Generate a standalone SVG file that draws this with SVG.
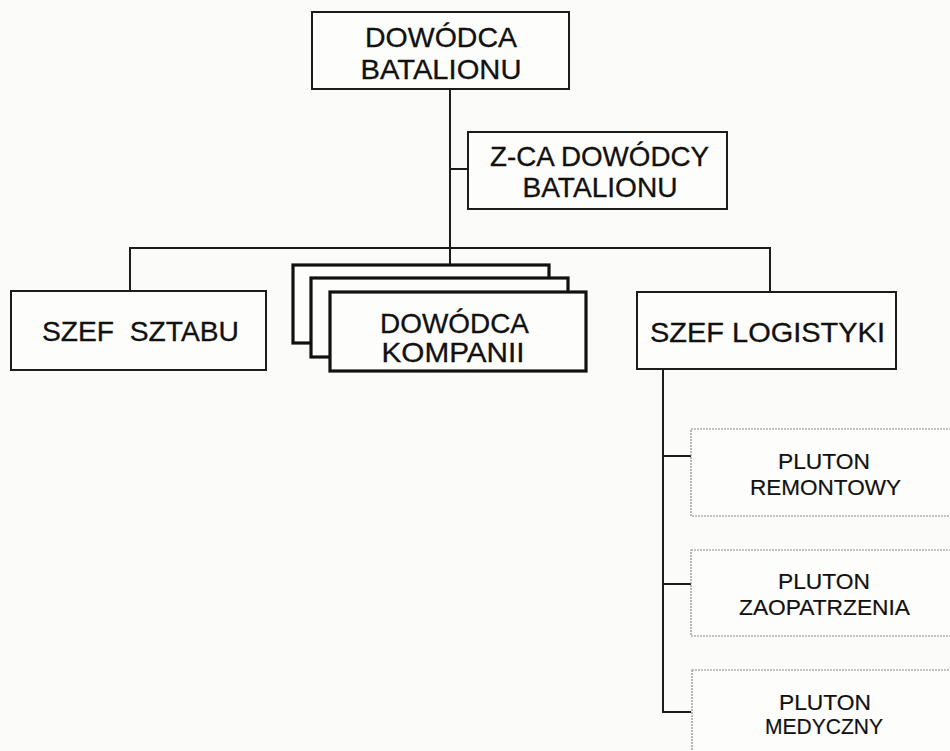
<svg xmlns="http://www.w3.org/2000/svg" width="950" height="751" viewBox="0 0 950 751">
<style>
.bg{fill:#fbfbf9}
.box{fill:#fdfdfb;stroke:#1c1c1c;stroke-width:2}
.stack{fill:#fdfdfb;stroke:#111;stroke-width:3.2}
.plt{fill:#fdfdfb;stroke:#8a8a8a;stroke-width:1.2;stroke-dasharray:2 1}
.con{fill:none;stroke:#1c1c1c;stroke-width:2}
.t{font-family:"Liberation Sans",Arial,sans-serif;font-size:27.5px;fill:#111;text-anchor:middle;stroke:#111;stroke-width:0.3}
.s{font-family:"Liberation Sans",Arial,sans-serif;font-size:22px;fill:#111;text-anchor:middle;stroke:#111;stroke-width:0.2}
</style>
<rect class="bg" x="0" y="0" width="950" height="751"/>
<g id="connectors">
<path class="con" d="M450,89 V265"/>
<path class="con" d="M450,169 H468"/>
<path class="con" d="M130,291 V248 H770 V292"/>
<path class="con" d="M663,369 V712 H691"/>
<path class="con" d="M663,456 H691"/>
<path class="con" d="M663,584 H691"/>
</g>
<g id="dowodca-batalionu">
<rect class="box" x="312" y="12" width="257" height="77"/>
<text class="t" x="441" y="47" textLength="152" lengthAdjust="spacingAndGlyphs">DOWÓDCA</text>
<text class="t" x="441" y="79" textLength="161" lengthAdjust="spacingAndGlyphs">BATALIONU</text>
</g>
<g id="zca-dowodcy">
<rect class="box" x="468" y="132" width="259" height="77"/>
<text class="t" x="599.5" y="166" textLength="219" lengthAdjust="spacingAndGlyphs">Z-CA DOWÓDCY</text>
<text class="t" x="600" y="197" textLength="155" lengthAdjust="spacingAndGlyphs">BATALIONU</text>
</g>
<g id="szef-sztabu">
<rect class="box" x="11" y="291" width="255" height="79"/>
<text class="t" x="140.5" y="341" textLength="197" lengthAdjust="spacingAndGlyphs" xml:space="preserve">SZEF  SZTABU</text>
</g>
<g id="dowodca-kompanii">
<rect class="stack" x="293" y="265" width="256" height="78"/>
<rect class="stack" x="311" y="278" width="257" height="79"/>
<rect class="stack" x="330" y="292" width="256" height="79"/>
<text class="t" x="454.5" y="333" textLength="149" lengthAdjust="spacingAndGlyphs">DOWÓDCA</text>
<text class="t" x="453" y="362" textLength="143" lengthAdjust="spacingAndGlyphs">KOMPANII</text>
</g>
<g id="szef-logistyki">
<rect class="box" x="637" y="292" width="259" height="77"/>
<text class="t" x="767.5" y="342" textLength="235" lengthAdjust="spacingAndGlyphs">SZEF LOGISTYKI</text>
</g>
<g id="pluton-remontowy">
<rect class="plt" x="691" y="429" width="270" height="87"/>
<text class="s" x="824" y="469" textLength="92" lengthAdjust="spacingAndGlyphs">PLUTON</text>
<text class="s" x="825.5" y="495" textLength="151" lengthAdjust="spacingAndGlyphs">REMONTOWY</text>
</g>
<g id="pluton-zaopatrzenia">
<rect class="plt" x="691" y="550" width="270" height="86"/>
<text class="s" x="824" y="589" textLength="92" lengthAdjust="spacingAndGlyphs">PLUTON</text>
<text class="s" x="824.5" y="615" textLength="171" lengthAdjust="spacingAndGlyphs">ZAOPATRZENIA</text>
</g>
<g id="pluton-medyczny">
<rect class="plt" x="692" y="670" width="270" height="100"/>
<text class="s" x="825" y="710" textLength="92" lengthAdjust="spacingAndGlyphs">PLUTON</text>
<text class="s" x="824" y="734" textLength="118" lengthAdjust="spacingAndGlyphs">MEDYCZNY</text>
</g>
</svg>
